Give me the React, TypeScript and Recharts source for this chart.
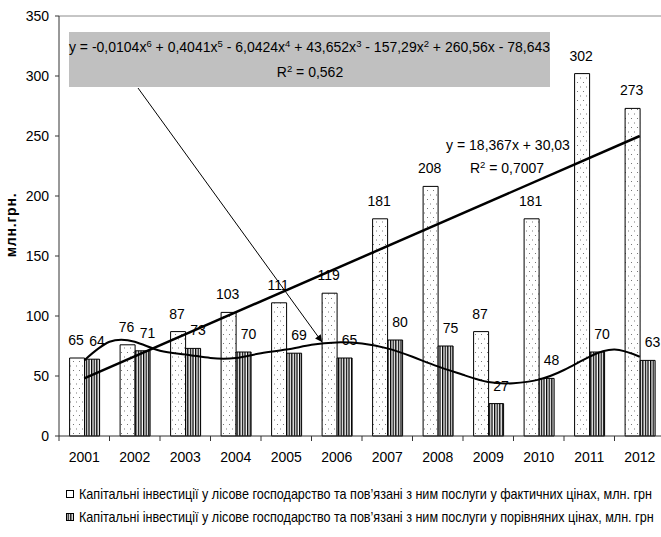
import React from 'react';
import { ComposedChart, Bar, Line, XAxis, YAxis, LabelList, ReferenceLine } from 'recharts';

// ---- data ----
const years = ['2001', '2002', '2003', '2004', '2005', '2006', '2007', '2008', '2009', '2010', '2011', '2012'];
const actualPrices = [65, 76, 87, 103, 111, 119, 181, 208, 87, 181, 302, 273];
const comparablePrices = [64, 71, 73, 70, 69, 65, 80, 75, 27, 48, 70, 63];
const yTicks = [0, 50, 100, 150, 200, 250, 300, 350];

// linear trend (read at the two ends of the drawn line)
const linearTrendX = [1, 12];
const linearTrendY = [48, 250];

// polynomial trend curve (at whole and half positions)
const polyTrendX = [1, 1.5, 2, 2.5, 3, 3.5, 4, 4.5, 5, 5.5, 6, 6.5, 7, 7.5, 8, 8.5, 9, 9.5, 10, 10.5, 11, 11.5, 12];
const polyTrendY = [63, 78.5, 78.5, 71, 68, 65, 65, 69, 72, 76, 78, 77, 73, 66, 58, 51, 45, 44, 47, 55, 66, 72, 66];

const seriesNames = [
  'Капітальні інвестиції у лісове господарство та пов’язані з ним послуги у фактичних цінах, млн. грн',
  'Капітальні інвестиції у лісове господарство та пов’язані з ним послуги у порівняних цінах, млн. грн',
];

const rows = years.map((year, i) => ({ year, actual: actualPrices[i], comparable: comparablePrices[i] }));
const linearRows = linearTrendX.map((x, i) => ({ x, y: linearTrendY[i] }));
const polyRows = polyTrendX.map((x, i) => ({ x, y: polyTrendY[i] }));

// ---- layout ----
const CHART_W = 666;
const CHART_H = 537;
const M = { top: 16, right: 1, left: 0, bottom: 71 };
const YAXIS_W = 59;
const XAXIS_H = 30;
const PLOT_LEFT = M.left + YAXIS_W;
const PLOT_W = CHART_W - PLOT_LEFT - M.right;
const BAND = PLOT_W / years.length;
const PLOT_BOTTOM = CHART_H - M.bottom - XAXIS_H;
const FONT = '"Liberation Sans", Arial, sans-serif';
const AXIS_COLOR = '#333';
const LEGEND_SQUEEZE = 0.9;

const XTick = (props: any) => {
  const { x, payload, index } = props;
  const y0 = PLOT_BOTTOM;
  return (
    <g>
      <line x1={x - BAND / 2} x2={x - BAND / 2} y1={y0} y2={y0 + 5} stroke={AXIS_COLOR} />
      {index === years.length - 1 && (
        <line x1={x + BAND / 2} x2={x + BAND / 2} y1={y0} y2={y0 + 5} stroke={AXIS_COLOR} />
      )}
      <text x={x} y={y0 + 26} textAnchor="middle" fontSize={14} fill="#000" fontFamily={FONT}>
        {payload.value}
      </text>
    </g>
  );
};

const makeLabel = (dx: number, lift: number) => (props: any) => {
  const { x, y, width, value } = props;
  return (
    <text x={x + width / 2 + dx} y={y - lift} textAnchor="middle" fontSize={14} fill="#000" fontFamily={FONT}>
      {value}
    </text>
  );
};

const Sup = ({ children }: { children: React.ReactNode }) => (
  <tspan baselineShift="super" fontSize={9.5}>
    {children}
  </tspan>
);

export default function App() {
  return (
    <div style={{ position: 'absolute', left: 0, top: 0, width: 661, height: 537, overflow: 'hidden', background: '#fff' }}>
      <ComposedChart width={CHART_W} height={CHART_H} data={rows} margin={M} barCategoryGap="21%" barGap={0}>
        <defs>
          <pattern id="dots" patternUnits="userSpaceOnUse" width="6" height="9">
            <rect width="6" height="9" fill="#fff" />
            <rect x="1" y="1" width="1" height="1" fill="#777" />
            <rect x="4" y="5.5" width="1" height="1" fill="#777" />
          </pattern>
          <pattern id="stripes" patternUnits="userSpaceOnUse" width="2.6" height="4">
            <rect width="2.6" height="4" fill="#fff" />
            <rect width="1.3" height="4" fill="#000" />
          </pattern>
          <marker id="arrowHead" viewBox="0 0 10 10" refX="10" refY="5" markerWidth="8" markerHeight="7" orient="auto" markerUnits="userSpaceOnUse">
            <path d="M0,0 L10,5 L0,10 z" fill="#000" />
          </marker>
        </defs>

        <XAxis
          xAxisId="cat"
          dataKey="year"
          type="category"
          height={XAXIS_H}
          interval={0}
          tickLine={false}
          axisLine={{ stroke: AXIS_COLOR }}
          tick={<XTick />}
        />
        <XAxis xAxisId="num" dataKey="x" type="number" domain={[0.5, 12.5]} hide allowDataOverflow />
        <YAxis
          width={YAXIS_W}
          domain={[0, 350]}
          ticks={yTicks}
          interval={0}
          tickSize={4}
          tickMargin={6}
          axisLine={{ stroke: AXIS_COLOR }}
          tickLine={{ stroke: AXIS_COLOR }}
          tick={{ fontSize: 14, fill: '#000', fontFamily: FONT }}
        />
        <ReferenceLine xAxisId="cat" y={350} stroke="#8c8c8c" />

        <Bar xAxisId="cat" dataKey="actual" name={seriesNames[0]} fill="url(#dots)" stroke="#000" strokeWidth={1} isAnimationActive={false}>
          <LabelList dataKey="actual" content={makeLabel(-1, 13)} />
        </Bar>
        <Bar xAxisId="cat" dataKey="comparable" name={seriesNames[1]} fill="url(#stripes)" stroke="#000" strokeWidth={1} isAnimationActive={false}>
          <LabelList dataKey="comparable" content={makeLabel(5, 13)} />
        </Bar>

        <Line xAxisId="num" data={linearRows} dataKey="y" type="linear" stroke="#000" strokeWidth={2.5} dot={false} activeDot={false} isAnimationActive={false} legendType="none" />
        <Line xAxisId="num" data={polyRows} dataKey="y" type="natural" stroke="#000" strokeWidth={2} dot={false} activeDot={false} isAnimationActive={false} legendType="none" />

        {/* axis title */}
        <text transform="translate(16,225) rotate(-90)" x={0} y={0} textAnchor="middle" fontSize={14} fontWeight="bold" letterSpacing={0.8} fill="#000" fontFamily={FONT}>
          млн.грн.
        </text>

        {/* polynomial trend equation */}
        <rect x={69} y={32} width={481} height={55} fill="#c0c0c0" />
        <text x={309.5} y={52} textAnchor="middle" fontSize={14} fill="#000" fontFamily={FONT}>
          y = -0,0104x<Sup>6</Sup> + 0,4041x<Sup>5</Sup> - 6,0424x<Sup>4</Sup> + 43,652x<Sup>3</Sup> - 157,29x<Sup>2</Sup> + 260,56x - 78,643
        </text>
        <text x={310} y={77} textAnchor="middle" fontSize={14} fill="#000" fontFamily={FONT}>
          R<Sup>2</Sup> = 0,562
        </text>
        <line x1={138} y1={88} x2={322} y2={342} stroke="#000" strokeWidth={1} markerEnd="url(#arrowHead)" />

        {/* linear trend equation */}
        <text x={508} y={150} textAnchor="middle" fontSize={14} fill="#000" fontFamily={FONT}>
          y = 18,367x + 30,03
        </text>
        <text x={507} y={173} textAnchor="middle" fontSize={14} fill="#000" fontFamily={FONT}>
          R<Sup>2</Sup> = 0,7007
        </text>

        {/* legend */}
        <rect x={66.5} y={490.5} width={7} height={7} fill="#fff" stroke="#000" />
        <text transform={`translate(79,499) scale(${LEGEND_SQUEEZE},1)`} x={0} y={0} fontSize={14} fill="#000" fontFamily={FONT}>
          {seriesNames[0]}
        </text>
        <rect x={66.5} y={513.5} width={7} height={7} fill="url(#stripes)" stroke="#000" />
        <text transform={`translate(79,522) scale(${LEGEND_SQUEEZE},1)`} x={0} y={0} fontSize={14} fill="#000" fontFamily={FONT}>
          {seriesNames[1]}
        </text>
      </ComposedChart>
    </div>
  );
}
